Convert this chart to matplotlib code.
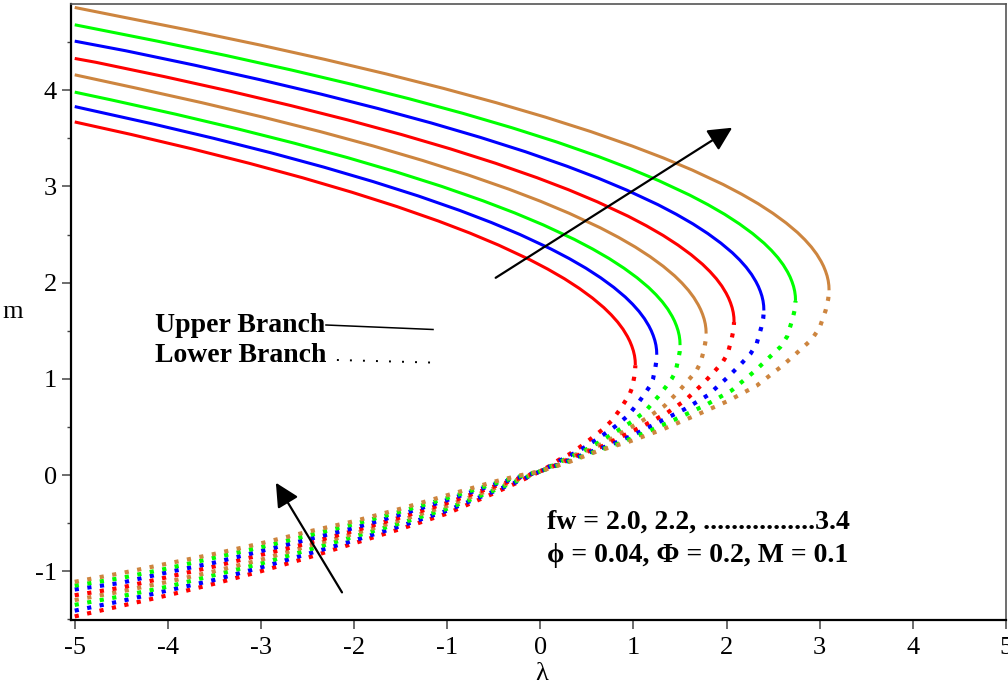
import matplotlib
matplotlib.use("Agg")
import matplotlib.pyplot as plt
from matplotlib.ticker import MultipleLocator, FixedLocator, FixedFormatter
from matplotlib.lines import Line2D

plt.rcParams['axes.unicode_minus'] = False
SERIF = ['Liberation Serif', 'DejaVu Serif']

# suction parameter values and their colours
fw_values = [2.0, 2.2, 2.4, 2.6, 2.8, 3.0, 3.2, 3.4]
curve_colors = ['#FF0000', '#0000FF', '#00FF00', '#CD853F',
                '#FF0000', '#0000FF', '#00FF00', '#CD853F']

# ---- upper (first) solution branches, from the turning point to lambda = -5 ----
upper_lam_20 = [1.020, 1.018, 1.011, 0.999, 0.982, 0.961, 0.935, 0.888, 0.830, 0.761, 0.682, 0.559, 0.418,
                0.259, 0.080, -0.117, -0.449, -0.757, -1.095, -1.539, -2.026, -2.554, -3.125, -3.739, -4.394, -5.0]
upper_m_20 = [1.14, 1.19, 1.24, 1.29, 1.34, 1.39, 1.44, 1.515, 1.59, 1.665, 1.74, 1.84, 1.94,
              2.04, 2.14, 2.24, 2.39, 2.515, 2.64, 2.79, 2.94, 3.09, 3.24, 3.39, 3.54, 3.67]

upper_lam_22 = [1.250, 1.248, 1.241, 1.229, 1.212, 1.191, 1.165, 1.118, 1.060, 0.991, 0.912, 0.789, 0.648,
                0.489, 0.310, 0.113, -0.219, -0.527, -0.865, -1.309, -1.796, -2.324, -2.895, -3.509, -4.164,
                -4.862, -5.0]
upper_m_22 = [1.25, 1.30, 1.35, 1.40, 1.45, 1.50, 1.55, 1.625, 1.70, 1.775, 1.85, 1.95, 2.05,
              2.15, 2.25, 2.35, 2.50, 2.625, 2.75, 2.90, 3.05, 3.20, 3.35, 3.50, 3.65, 3.80, 3.83]

upper_lam_24 = [1.500, 1.498, 1.491, 1.479, 1.462, 1.441, 1.415, 1.368, 1.310, 1.241, 1.162, 1.039, 0.898,
                0.739, 0.560, 0.363, 0.031, -0.277, -0.615, -1.059, -1.546, -2.074, -2.645, -3.259, -3.914,
                -4.612, -5.0]
upper_m_24 = [1.35, 1.40, 1.45, 1.50, 1.55, 1.60, 1.65, 1.725, 1.80, 1.875, 1.95, 2.05, 2.15,
              2.25, 2.35, 2.45, 2.60, 2.725, 2.85, 3.00, 3.15, 3.30, 3.45, 3.60, 3.75, 3.90, 3.98]

upper_lam_26 = [1.780, 1.778, 1.771, 1.759, 1.742, 1.721, 1.695, 1.648, 1.590, 1.521, 1.442, 1.319, 1.178,
                1.019, 0.840, 0.643, 0.311, 0.003, -0.335, -0.779, -1.266, -1.794, -2.365, -2.979, -3.634,
                -4.332, -5.0]
upper_m_26 = [1.47, 1.52, 1.57, 1.62, 1.67, 1.72, 1.77, 1.845, 1.92, 1.995, 2.07, 2.17, 2.27,
              2.37, 2.47, 2.57, 2.72, 2.845, 2.97, 3.12, 3.27, 3.42, 3.57, 3.72, 3.87, 4.02, 4.16]

upper_lam_28 = [2.080, 2.078, 2.071, 2.059, 2.042, 2.021, 1.995, 1.948, 1.890, 1.821, 1.742, 1.619, 1.478,
                1.319, 1.140, 0.943, 0.611, 0.303, -0.035, -0.479, -0.966, -1.494, -2.065, -2.679, -3.334,
                -4.032, -4.773, -5.0]
upper_m_28 = [1.59, 1.64, 1.69, 1.74, 1.79, 1.84, 1.89, 1.965, 2.04, 2.115, 2.19, 2.29, 2.39,
              2.49, 2.59, 2.69, 2.84, 2.965, 3.09, 3.24, 3.39, 3.54, 3.69, 3.84, 3.99, 4.14, 4.29, 4.33]

upper_lam_30 = [2.400, 2.398, 2.391, 2.379, 2.362, 2.341, 2.315, 2.268, 2.210, 2.141, 2.062, 1.939, 1.798,
                1.639, 1.460, 1.263, 0.931, 0.623, 0.285, -0.159, -0.646, -1.174, -1.745, -2.359, -3.014,
                -3.712, -4.453, -5.0]
upper_m_30 = [1.71, 1.76, 1.81, 1.86, 1.91, 1.96, 2.01, 2.085, 2.16, 2.235, 2.31, 2.41, 2.51,
              2.61, 2.71, 2.81, 2.96, 3.085, 3.21, 3.36, 3.51, 3.66, 3.81, 3.96, 4.11, 4.26, 4.41, 4.51]

upper_lam_32 = [2.740, 2.738, 2.731, 2.719, 2.702, 2.681, 2.655, 2.608, 2.550, 2.481, 2.402, 2.279, 2.138,
                1.979, 1.800, 1.603, 1.271, 0.963, 0.625, 0.181, -0.306, -0.834, -1.405, -2.019, -2.674,
                -3.372, -4.113, -4.895, -5.0]
upper_m_32 = [1.81, 1.86, 1.91, 1.96, 2.01, 2.06, 2.11, 2.185, 2.26, 2.335, 2.41, 2.51, 2.61,
              2.71, 2.81, 2.91, 3.06, 3.185, 3.31, 3.46, 3.61, 3.76, 3.91, 4.06, 4.21, 4.36, 4.51, 4.66, 4.68]

upper_lam_34 = [3.100, 3.098, 3.091, 3.079, 3.062, 3.041, 3.015, 2.968, 2.910, 2.841, 2.762, 2.639, 2.498,
                2.339, 2.160, 1.963, 1.631, 1.323, 0.985, 0.541, 0.054, -0.474, -1.045, -1.659, -2.314,
                -3.012, -3.753, -4.535, -5.0]
upper_m_34 = [1.92, 1.97, 2.02, 2.07, 2.12, 2.17, 2.22, 2.295, 2.37, 2.445, 2.52, 2.62, 2.72,
              2.82, 2.92, 3.02, 3.17, 3.295, 3.42, 3.57, 3.72, 3.87, 4.02, 4.17, 4.32, 4.47, 4.62, 4.77, 4.86]

# ---- lower (second) solution branches ----
# lambda >= 0 part, from the turning point down to the origin
lower_lam_20 = [1.02, 1.017, 1.008, 0.986, 0.959, 0.918, 0.857, 0.765, 0.663, 0.541, 0.428, 0.316, 0.204, 0.092, 0.0]
lower_lam_22 = [1.25, 1.246, 1.235, 1.209, 1.175, 1.125, 1.05, 0.938, 0.813, 0.663, 0.525, 0.388, 0.25, 0.113, 0.0]
lower_lam_24 = [1.50, 1.496, 1.482, 1.451, 1.41, 1.35, 1.26, 1.125, 0.975, 0.795, 0.63, 0.465, 0.30, 0.135, 0.0]
lower_lam_26 = [1.78, 1.775, 1.759, 1.721, 1.673, 1.602, 1.495, 1.335, 1.157, 0.943, 0.748, 0.552, 0.356, 0.160, 0.0]
lower_lam_28 = [2.08, 2.074, 2.055, 2.011, 1.955, 1.872, 1.747, 1.56, 1.352, 1.102, 0.874, 0.645, 0.416, 0.187, 0.0]
lower_lam_30 = [2.40, 2.393, 2.371, 2.321, 2.256, 2.16, 2.016, 1.80, 1.56, 1.272, 1.008, 0.744, 0.48, 0.216, 0.0]
lower_lam_32 = [2.74, 2.732, 2.707, 2.65, 2.576, 2.466, 2.302, 2.055, 1.781, 1.452, 1.151, 0.849, 0.548, 0.247, 0.0]
lower_lam_34 = [3.10, 3.091, 3.063, 2.998, 2.914, 2.79, 2.604, 2.325, 2.015, 1.643, 1.302, 0.961, 0.62, 0.279, 0.0]
# lambda < 0 part, shared abscissae
lower_lam_neg = [-0.25, -0.5, -1.0, -1.5, -2.0, -2.5, -3.0, -3.5, -4.0, -4.5, -5.0]

lower_m_20 = [1.14, 1.085, 1.019, 0.909, 0.843, 0.777, 0.684, 0.563, 0.469, 0.376, 0.293, 0.219, 0.161, 0.09, 0.04,
              -0.08, -0.19, -0.40, -0.56, -0.71, -0.86, -1.00, -1.13, -1.25, -1.36, -1.47]
lower_m_22 = [1.25, 1.19, 1.117, 0.996, 0.923, 0.851, 0.748, 0.615, 0.512, 0.409, 0.318, 0.237, 0.173, 0.094, 0.04,
              -0.07, -0.17, -0.37, -0.53, -0.68, -0.82, -0.96, -1.09, -1.20, -1.31, -1.41]
lower_m_24 = [1.35, 1.28, 1.21, 1.07, 1.00, 0.92, 0.81, 0.66, 0.55, 0.44, 0.34, 0.25, 0.18, 0.10, 0.04,
              -0.06, -0.16, -0.35, -0.50, -0.64, -0.78, -0.92, -1.04, -1.16, -1.26, -1.35]
lower_m_26 = [1.47, 1.40, 1.31, 1.17, 1.08, 1.00, 0.88, 0.72, 0.60, 0.48, 0.37, 0.27, 0.20, 0.10, 0.04,
              -0.05, -0.14, -0.32, -0.47, -0.61, -0.74, -0.88, -1.00, -1.11, -1.21, -1.30]
lower_m_28 = [1.59, 1.51, 1.42, 1.26, 1.17, 1.08, 0.95, 0.78, 0.64, 0.51, 0.40, 0.29, 0.21, 0.11, 0.04,
              -0.04, -0.12, -0.29, -0.44, -0.58, -0.71, -0.83, -0.95, -1.06, -1.17, -1.25]
lower_m_30 = [1.71, 1.63, 1.53, 1.36, 1.26, 1.16, 1.02, 0.83, 0.69, 0.55, 0.42, 0.31, 0.22, 0.115, 0.04,
              -0.03, -0.10, -0.26, -0.41, -0.55, -0.67, -0.79, -0.91, -1.01, -1.12, -1.19]
lower_m_32 = [1.81, 1.72, 1.62, 1.44, 1.33, 1.23, 1.08, 0.88, 0.73, 0.58, 0.45, 0.33, 0.23, 0.12, 0.04,
              -0.02, -0.09, -0.24, -0.38, -0.51, -0.63, -0.75, -0.86, -0.97, -1.07, -1.15]
lower_m_34 = [1.92, 1.83, 1.71, 1.53, 1.41, 1.30, 1.14, 0.93, 0.77, 0.61, 0.47, 0.35, 0.25, 0.125, 0.04,
              -0.01, -0.07, -0.21, -0.35, -0.48, -0.59, -0.71, -0.82, -0.92, -1.02, -1.11]

upper_lams = [upper_lam_20, upper_lam_22, upper_lam_24, upper_lam_26,
              upper_lam_28, upper_lam_30, upper_lam_32, upper_lam_34]
upper_ms = [upper_m_20, upper_m_22, upper_m_24, upper_m_26,
            upper_m_28, upper_m_30, upper_m_32, upper_m_34]
lower_lams = [lower_lam_20, lower_lam_22, lower_lam_24, lower_lam_26,
              lower_lam_28, lower_lam_30, lower_lam_32, lower_lam_34]
lower_ms = [lower_m_20, lower_m_22, lower_m_24, lower_m_26,
            lower_m_28, lower_m_30, lower_m_32, lower_m_34]

x_ticks = [-5, -4, -3, -2, -1, 0, 1, 2, 3, 4, 5]
x_tick_labels = ['-5', '-4', '-3', '-2', '-1', '0', '1', '2', '3', '4', '5']
y_ticks = [-1, 0, 1, 2, 3, 4]
y_tick_labels = ['-1', '0', '1', '2', '3', '4']

fig = plt.figure(figsize=(10.08, 6.86), dpi=100)
ax = fig.add_axes([71 / 1008, 1 - 620 / 686, 935 / 1008, 616 / 686])

for lam, m, col in zip(upper_lams, upper_ms, curve_colors):
    ax.plot(lam, m, color=col, lw=2.2, solid_capstyle='butt', solid_joinstyle='round')

# lower branches are traced from lambda = -5 towards the turning point,
# so the dot pattern starts at the left edge for every curve
for lam_pos, m, col in zip(lower_lams, lower_ms, curve_colors):
    lam_path = (lam_pos + lower_lam_neg)[::-1]
    m_path = m[::-1]
    ax.plot(lam_path, m_path, color=col, lw=3.0,
            linestyle=(0, (1.0, 2.05)), dash_capstyle='butt')

ax.set_xlim(-5.04, 5.0)
ax.set_ylim(-1.507, 4.896)

ax.xaxis.set_major_locator(FixedLocator(x_ticks))
ax.xaxis.set_major_formatter(FixedFormatter(x_tick_labels))
ax.yaxis.set_major_locator(FixedLocator(y_ticks))
ax.yaxis.set_major_formatter(FixedFormatter(y_tick_labels))
ax.yaxis.set_minor_locator(MultipleLocator(0.5))

ax.tick_params(axis='both', which='major', direction='out', length=6.5, width=1.1,
               color='#444444', labelsize=19, labelcolor='black')
ax.tick_params(axis='x', which='major', pad=6)
ax.tick_params(axis='y', which='major', pad=3.5)
ax.tick_params(axis='y', which='minor', direction='out', length=3, width=1.0, color='#444444')
for lbl in ax.get_xticklabels() + ax.get_yticklabels():
    lbl.set_family(SERIF)

for side in ('left', 'bottom'):
    ax.spines[side].set_linewidth(1.6)
    ax.spines[side].set_color('black')
for side in ('top', 'right'):
    ax.spines[side].set_linewidth(1.2)
    ax.spines[side].set_color('#555555')

ax.set_xlabel('λ', family=SERIF, fontsize=19, va='center')
ax.xaxis.set_label_coords(0.503, -0.087)
ax.set_ylabel('m', family=SERIF, fontsize=19, rotation=0, va='center', ha='center')
ax.yaxis.set_label_coords(-0.062, 0.50)

# direction arrows
ax.annotate('', xy=(2.06, 3.61), xytext=(-0.48, 2.05),
            arrowprops=dict(arrowstyle='-|>,head_length=0.9,head_width=0.45',
                            mutation_scale=16, lw=1.6, color='black',
                            shrinkA=0, shrinkB=0))
ax.annotate('', xy=(-2.84, -0.08), xytext=(-2.13, -1.22),
            arrowprops=dict(arrowstyle='-|>,head_length=0.9,head_width=0.45',
                            mutation_scale=16, lw=1.6, color='black',
                            shrinkA=0, shrinkB=0))

# branch key
ax.text(0.0898, 0.4675, 'Upper Branch', transform=ax.transAxes, family=SERIF,
        fontweight='bold', fontsize=20, va='baseline', ha='left')
ax.text(0.0898, 0.4190, 'Lower Branch', transform=ax.transAxes, family=SERIF,
        fontweight='bold', fontsize=20, va='baseline', ha='left')
ax.add_line(Line2D([0.2727, 0.3872], [0.4789, 0.4716], transform=ax.transAxes,
                   color='black', lw=1.1))
ax.add_line(Line2D([0.2844, 0.3840], [0.4221, 0.4180], transform=ax.transAxes,
                   color='black', lw=1.4, linestyle=(0, (1, 5.7)), dash_capstyle='butt'))

# parameter annotation
ax.text(0.5088, 0.1477, 'fw = 2.0, 2.2, ................3.4', transform=ax.transAxes,
        family=SERIF, fontweight='bold', fontsize=20, va='baseline', ha='left')
ax.text(0.5088, 0.0947, 'ϕ = 0.04, Φ = 0.2, M = 0.1', transform=ax.transAxes,
        family=SERIF, fontweight='bold', fontsize=20, va='baseline', ha='left')

fig.savefig('out.png', dpi=100)
